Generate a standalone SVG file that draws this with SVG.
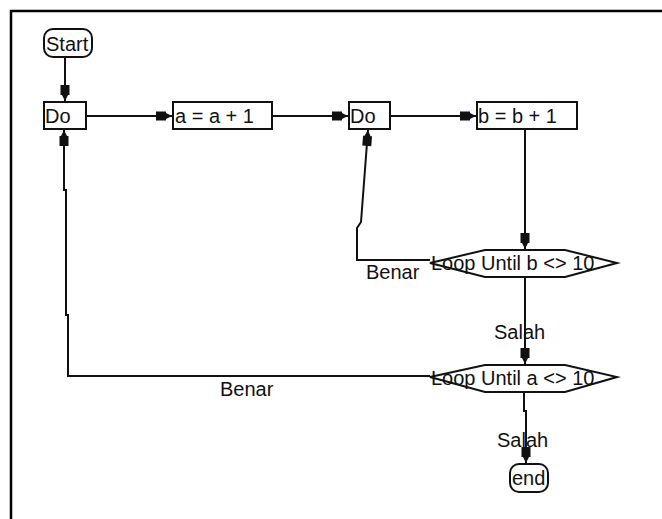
<svg xmlns="http://www.w3.org/2000/svg" width="662" height="519" viewBox="0 0 662 519">
<style>
.n{fill:#fff;stroke:#111;stroke-width:2}
.t{font-family:"Liberation Sans",Arial,sans-serif;font-size:20px;fill:#111}
.c{fill:none;stroke:#111;stroke-width:2}
</style>
<defs>
<marker id="ah" viewBox="-18 -7 20 14" markerWidth="20" markerHeight="14" refX="0" refY="0" orient="auto" markerUnits="userSpaceOnUse">
<path d="M-16,-4.5 L-6,-4.5 L-6,-3 L0,0 L-6,3 L-6,4.5 L-16,4.5 Z" fill="#111"/>
</marker>
</defs>
<rect width="662" height="519" fill="#fff"/>
<rect x="11" y="11" width="700" height="600" fill="none" stroke="#000" stroke-width="2.5"/>
<g id="connectors">
<path class="c" d="M65,57 V101" marker-end="url(#ah)"/>
<path class="c" d="M86,116 H172" marker-end="url(#ah)"/>
<path class="c" d="M272,116 H348" marker-end="url(#ah)"/>
<path class="c" d="M390,116 H476" marker-end="url(#ah)"/>
<path class="c" d="M525,129 V249" marker-end="url(#ah)"/>
<path class="c" d="M430,260 H357 V228 L361,222 L368,130" marker-end="url(#ah)"/>
<path class="c" d="M525,277 V364" marker-end="url(#ah)"/>
<path class="c" d="M430,376 H68 V315 H66 V190 H64 V130" marker-end="url(#ah)"/>
<path class="c" d="M524,392 V411 H526 V463" marker-end="url(#ah)"/>
</g>
<g id="start">
<rect class="n" x="44" y="29" width="48" height="28" rx="9"/>
<text class="t" x="46" y="51">Start</text>
</g>
<g id="do1">
<rect class="n" x="44" y="102" width="42" height="27"/>
<text class="t" x="45" y="123">Do</text>
</g>
<g id="inc-a">
<rect class="n" x="173" y="102" width="99" height="27"/>
<text class="t" x="175" y="123">a = a + 1</text>
</g>
<g id="do2">
<rect class="n" x="349" y="102" width="41" height="27"/>
<text class="t" x="350" y="123">Do</text>
</g>
<g id="inc-b">
<rect class="n" x="477" y="102" width="100" height="27"/>
<text class="t" x="478" y="123">b = b + 1</text>
</g>
<g id="loop-b">
<polygon class="n" points="430,263 485,250 565,250 617,263 565,277 485,277"/>
<text class="t" x="431" y="270">Loop Until b &lt;&gt; 10</text>
</g>
<g id="loop-a">
<polygon class="n" points="430,377 485,365 565,365 617,377 565,392 485,392"/>
<text class="t" x="431" y="385">Loop Until a &lt;&gt; 10</text>
</g>
<g id="end">
<rect class="n" x="510" y="464" width="38" height="28" rx="9"/>
<text class="t" x="512" y="485">end</text>
</g>
<g id="labels">
<text class="t" x="366" y="279">Benar</text>
<text class="t" x="494" y="339">Salah</text>
<text class="t" x="220" y="396">Benar</text>
<text class="t" x="497" y="447">Salah</text>
</g>
</svg>
